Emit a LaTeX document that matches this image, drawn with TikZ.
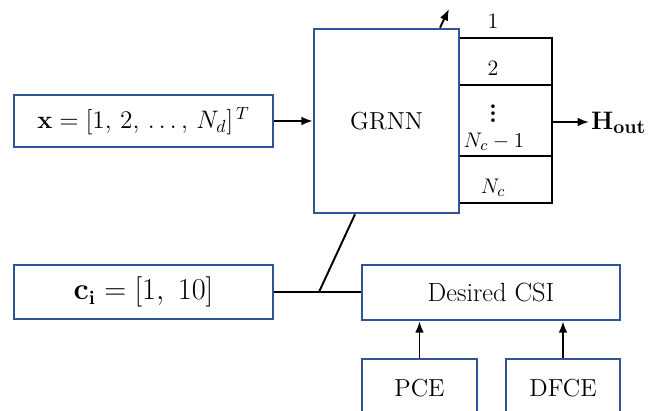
\documentclass[tikz,border=0pt]{standalone}
\usepackage{amsmath}
\usepackage{amssymb}
\usepackage{xcolor}
\usepackage{tikz}
\usetikzlibrary{positioning,calc}
\usetikzlibrary{arrows.meta}

\definecolor{blockblue}{HTML}{2F5597}
\tikzset{
  block/.style={draw=blockblue, line width=1.5pt, inner sep=0pt, align=center,
                font=\fontsize{14}{16}\selectfont},
  wire/.style={line width=1.1pt, black},
  fanlabel/.style={inner sep=0pt, font=\fontsize{12.5}{14}\selectfont},
}

\begin{document}
\begin{tikzpicture}[x=0.02cm, y=-0.02cm, >={Latex[length=6.5pt,width=5pt]}]
    \useasboundingbox (0,0) rectangle (660,411);
    \clip (0,0) rectangle (660,411);
    % input blocks
    \node[block, minimum width=5.18cm, minimum height=1.04cm] (xin) at (143.5,121)
        {$\mathbf{x} = [1,\,2,\,\ldots,\,N_d]^{\,T}$};
    \node[block, minimum width=5.18cm, minimum height=1.08cm,
          font=\fontsize{16}{18}\selectfont] (ci) at (143.5,292)
        {$\mathbf{c}_{\mathbf{i}} = [1,\ 10]$};
    % network
    \node[block, minimum width=2.9cm, minimum height=3.68cm] (grnn) at (386.5,121) {GRNN};
    % reference CSI and its sources
    \node[block, minimum width=5.16cm, minimum height=1.1cm,
          font=\fontsize{15}{17}\selectfont] (csi) at (491,292.5) {Desired CSI};
    \node[block, minimum width=2.3cm, minimum height=1.16cm] (pce) at (419.5,388) {PCE};
    \node[block, minimum width=2.28cm, minimum height=1.16cm] (dfce) at (563,388) {DFCE};

    % output fan
    \coordinate (f1) at (552,38);
    \coordinate (f2) at (552,85);
    \coordinate (f3) at (552,156);
    \coordinate (f4) at (552,203);
    \coordinate (fout) at (552,122);
    \draw[wire] (grnn.east |- f1) -- (f1) -- (f4) -- (grnn.east |- f4);
    \draw[wire] (grnn.east |- f2) -- (f2);
    \draw[wire] (grnn.east |- f3) -- (f3);
    \node[fanlabel] (l1) at (493,21) {1};
    \node[fanlabel] (l2) at (493,68) {2};
    \node[fanlabel, font=\bfseries\Large] (ldots) at (493,108) {$\vdots$};
    \node[fanlabel] (l3) at (494,142) {$N_c - 1$};
    \node[fanlabel] (l4) at (493,188) {$N_c$};
    \node[anchor=west, inner sep=1pt, font=\fontsize{15}{17}\selectfont] (hout) at (589,123)
        {$\boldsymbol{\mathbf{H}_{\mathbf{out}}}$};
    \draw[wire,->] (fout) -- (fout -| hout.west);

    % connectors
    \draw[wire,->] (xin) -- (grnn.west |- xin);
    \coordinate (tap) at (449,9);
    \draw[wire,->] (grnn.north -| 440,0) -- (tap);
    \coordinate (jn) at (319,292);
    \draw[wire] (ci.east) -- (csi.west |- ci.east);
    \draw[wire] (jn) -- (grnn.south -| 355,0);
    \draw[wire,->] (pce) -- (csi.south -| pce);
    \draw[wire,->] (dfce) -- (csi.south -| dfce);
\end{tikzpicture}
\end{document}
